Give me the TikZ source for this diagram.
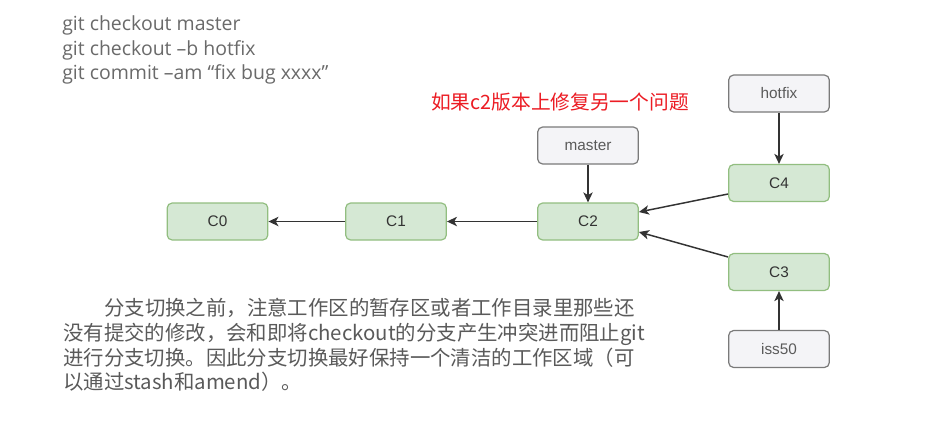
\documentclass[tikz,border=0pt]{standalone}
\usepackage{fontspec}
\setmainfont{Liberation Sans}
\newfontfamily\cjk{Noto Sans CJK SC}
\newfontfamily\opens{Open Sans}
\usetikzlibrary{arrows.meta,calc}
\definecolor{gfill}{HTML}{D5E8D4}
\definecolor{gdraw}{HTML}{92BE80}
\definecolor{nfill}{HTML}{F4F4F7}
\definecolor{ndraw}{HTML}{7A7A7A}
\definecolor{arrc}{HTML}{333333}
\definecolor{cmdc}{HTML}{6A6A6A}
\definecolor{parc}{HTML}{5A5A5A}
\definecolor{redc}{HTML}{EC1C24}
\tikzset{
  box/.style={rounded corners=3.75pt, line width=0.9pt, minimum width=75.5pt, minimum height=27.75pt, inner sep=0pt, font=\fontsize{11.5pt}{13pt}\selectfont},
  gnode/.style={box, fill=gfill, draw=gdraw, text=arrc},
  nnode/.style={box, fill=nfill, draw=ndraw, text=parc},
  arr/.style={draw=arrc, line width=1.1pt, -{Stealth[length=7.5pt,width=7pt,inset=2pt]}},
  cmd/.style={anchor=base west, inner sep=0pt, text=cmdc, font=\opens\fontsize{14.6pt}{16pt}\selectfont},
  par/.style={anchor=base west, inner sep=0pt, text=parc, font=\cjk\fontsize{15.3pt}{18pt}\selectfont},
  redtxt/.style={inner sep=0pt, text=redc, font=\cjk\fontsize{14.8pt}{17pt}\selectfont}
}
\begin{document}
\begin{tikzpicture}[x=0.75pt,y=-0.75pt]
\fill[white] (0,0) rectangle (952,430);
\useasboundingbox (0,0) rectangle (952,430);
% commands
\node[cmd] (l1) at (62,30.5) {git checkout master};
\node[cmd] (l2) at (62,55) {git checkout –b hotfix};
\node[cmd] (l3) at (62,79.5) {git commit –am “fix bug xxxx”};
% red note
\node[redtxt] (note) at (560,102) {如果c2版本上修复另一个问题};
% nodes
\node[gnode] (C0) at (217.5,221.5) {C0};
\node[gnode] (C1) at (396,221.5) {C1};
\node[gnode] (C2) at (588,221.5) {C2};
\node[nnode] (master) at (588,145.5) {master};
\node[nnode] (hotfix) at (779,93.5) {hotfix};
\node[gnode] (C4) at (779,183) {C4};
\node[gnode] (C3) at (779,272) {C3};
\node[nnode] (iss50) at (779,349) {iss50};
% edges
\draw[arr] (C1) -- (C0);
\draw[arr] (C2) -- (C1);
\draw[arr] (master) -- (C2);
\draw[arr] (hotfix) -- (C4);
\draw[arr] (iss50) -- (C3);
\draw[arr] ($(C4.west)+(0,11)$) -- ($(C2.east)+(0,-9.5)$);
\draw[arr] ($(C3.west)+(0,-15)$) -- ($(C2.east)+(0,10.5)$);
% paragraph
\node[par] (p1) at (104,315) {分支切换之前，注意工作区的暂存区或者工作目录里那些还};
\node[par] (p2) at (63,340) {没有提交的修改，会和即将checkout的分支产生冲突进而阻止git};
\node[par] (p3) at (63,365) {进行分支切换。因此分支切换最好保持一个清洁的工作区域（可};
\node[par] (p4) at (63,389) {以通过stash和amend）。};
\end{tikzpicture}
\end{document}
